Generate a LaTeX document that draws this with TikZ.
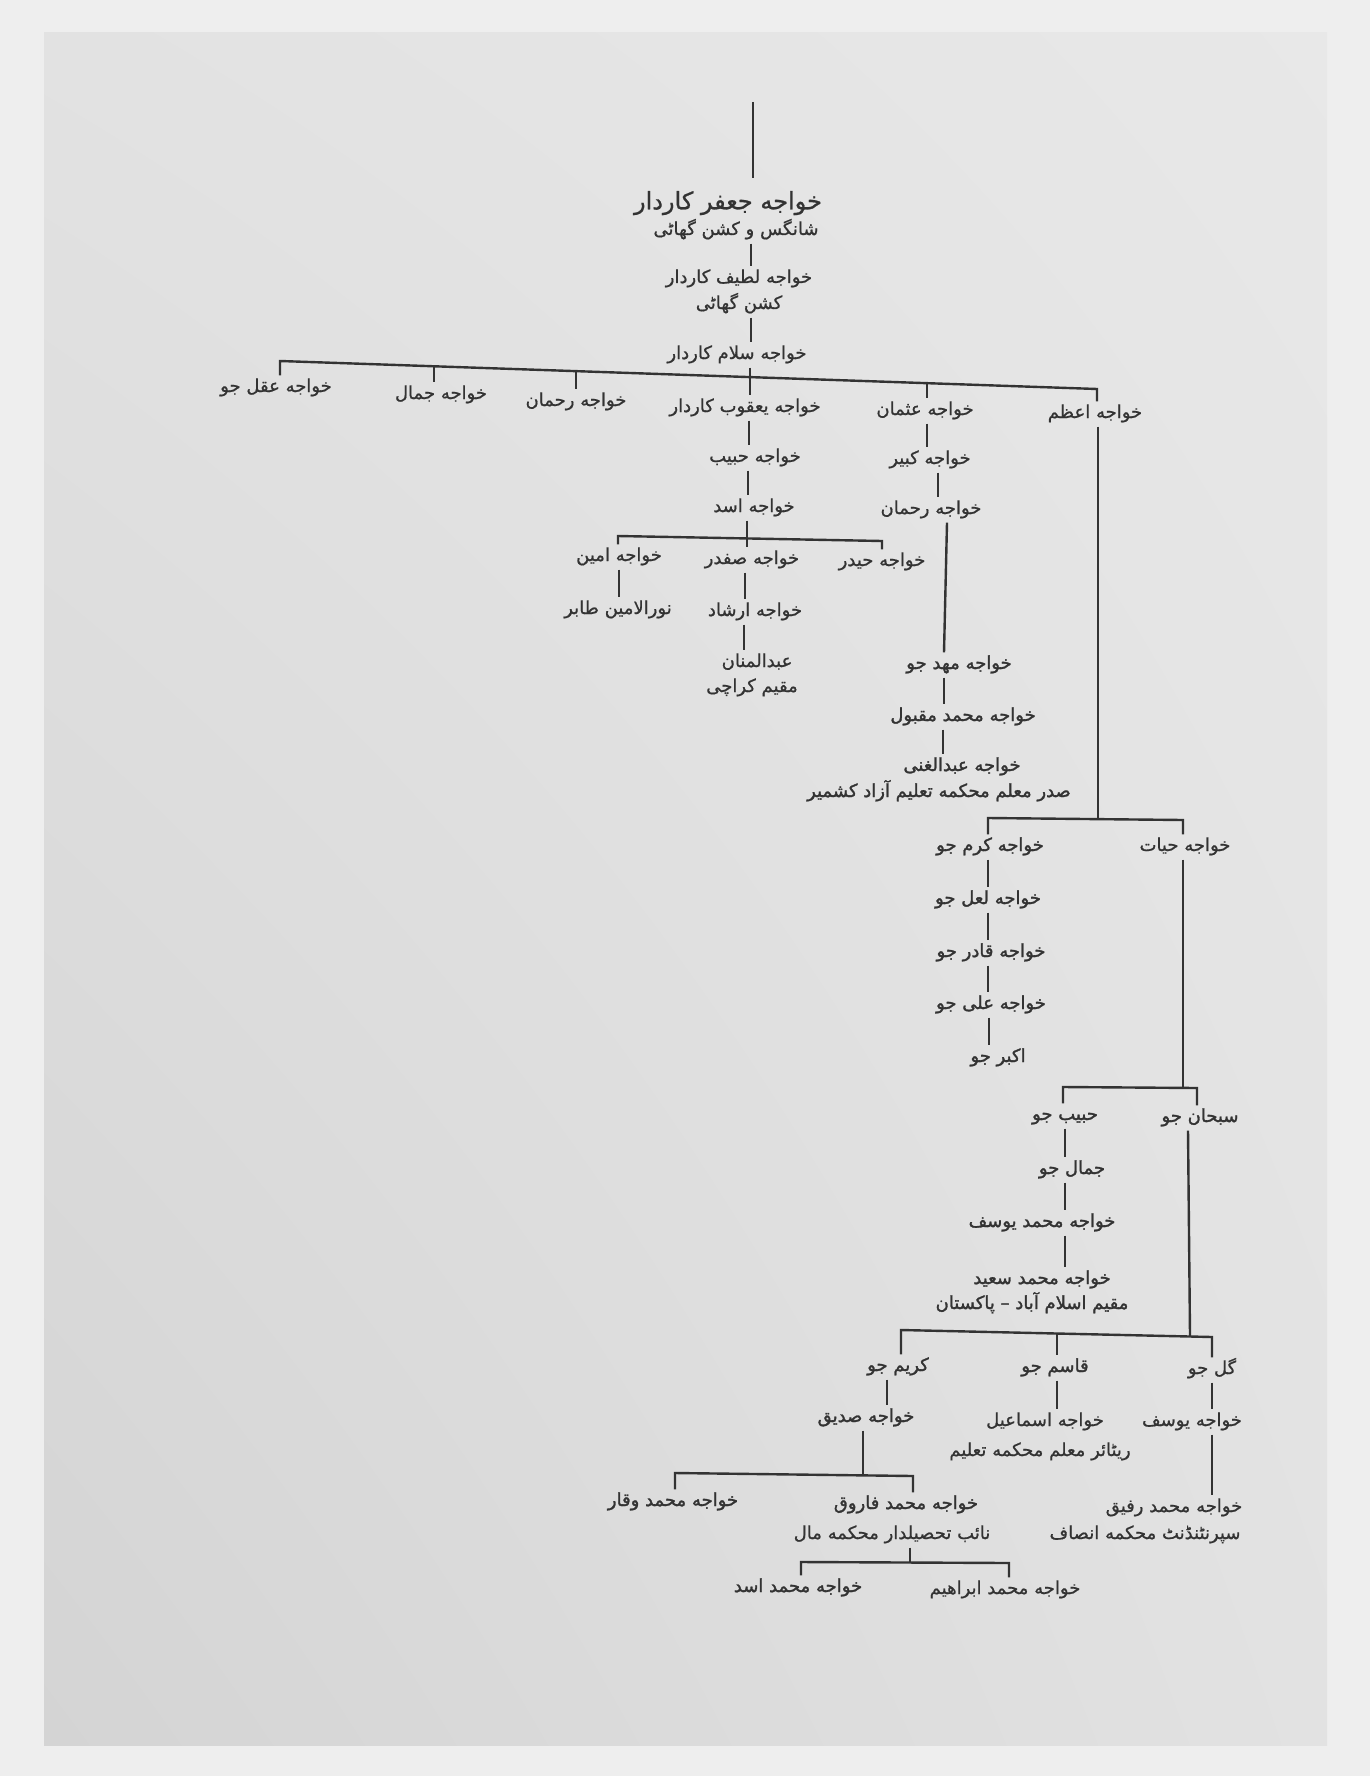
\documentclass[tikz,border=0pt]{standalone}
\usepackage{fontspec}
\usetikzlibrary{shadings}
\newfontfamily\ur[Script=Arabic,FakeBold=0.8]{DejaVu Sans}
\newfontfamily\urb[Script=Arabic,FakeBold=1.6]{DejaVu Sans}
\TeXXeTstate=1
\newcommand{\urt}[1]{\beginR #1\endR}
\definecolor{outerbg}{HTML}{EEEEEE}
\definecolor{pgA}{HTML}{D4D4D4}
\definecolor{pgB}{HTML}{E2E2E2}
\definecolor{ink}{HTML}{333333}
\tikzset{
  nm/.style={font=\ur\fontsize{13.5}{15}\selectfont, text=ink, inner sep=2.2pt, text height=10pt, text depth=4pt},
  nb/.style={nm, font=\urb\fontsize{13.5}{15}\selectfont},
  big/.style={font=\ur\fontsize{18}{20}\selectfont, text=ink, inner sep=2.2pt, text height=13pt, text depth=5pt},
  ln/.style={draw=ink, line width=1.8pt},
}
\begin{document}
\begin{tikzpicture}[x=0.75pt,y=-0.75pt]
\useasboundingbox (0,0) rectangle (1370,1776);
\fill[outerbg] (0,0) rectangle (1370,1776);
\shade[upper left=pgB, upper right=pgB!80!white, lower left=pgA, lower right=pgB] (44,33) rectangle (1327,1745);

% ---- top chain
\node[big] (jafar) at (728,204) {\urt{خواجه جعفر کاردار}};
\node[nm] (jafarS) at (736,231) {\urt{شانگس و کشن گھاٹی}};
\node[nm] (latif) at (739,279) {\urt{خواجه لطیف کاردار}};
\node[nm] (latifS) at (739,305) {\urt{کشن گھاٹی}};
\node[nm] (salam) at (737,355) {\urt{خواجه سلام کاردار}};
\coordinate (top) at (753,102);
\draw[ln, shorten >=8pt] (top) -- (jafar.north -| 753,0);
\draw[ln] (jafarS.south -| 751,0) -- (latif.north -| 751,0);
\draw[ln] (latifS.south -| 751,0) -- (salam.north -| 751,0);

% ---- first generation
\node[nm] (aql) at (276,388) {\urt{خواجه عقل جو}};
\node[nm] (jamal) at (441,395) {\urt{خواجه جمال}};
\node[nm] (rahmanA) at (576,402) {\urt{خواجه رحمان}};
\node[nm] (yaqub) at (745,408) {\urt{خواجه یعقوب کاردار}};
\node[nm] (usman) at (925,411) {\urt{خواجه عثمان}};
\node[nm] (azam) at (1095,414) {\urt{خواجه اعظم}};
\coordinate (b1L) at (280,361);
\coordinate (b1R) at (1097,389);
\coordinate (t1a) at (434,366);
\coordinate (t1b) at (576,371);
\coordinate (t1c) at (927,383);
\draw[ln] (aql.north -| 280,0) -- (b1L) -- (b1R) -- (azam.north -| 1097,0);
\draw[ln] (t1a) -- (jamal.north -| 434,0);
\draw[ln] (t1b) -- (rahmanA.north -| 576,0);
\draw[ln] (t1c) -- (usman.north -| 927,0);
\draw[ln] (salam.south -| 750,0) -- (yaqub.north -| 750,0);

% ---- Yaqub line
\node[nm] (habib) at (755,458) {\urt{خواجه حبیب}};
\node[nm] (asad) at (754,508) {\urt{خواجه اسد}};
\draw[ln] (yaqub.south -| 749,0) -- (habib.north -| 749,0);
\draw[ln] (habib.south -| 748,0) -- (asad.north -| 748,0);
\node[nm] (amin) at (619,557) {\urt{خواجه امین}};
\node[nm] (safdar) at (752,560) {\urt{خواجه صفدر}};
\node[nm] (haidar) at (882,562) {\urt{خواجه حیدر}};
\coordinate (b2L) at (618,536);
\coordinate (b2R) at (882,541);
\draw[ln] (amin.north -| 618,0) -- (b2L) -- (b2R) -- (haidar.north -| 882,0);
\draw[ln] (asad.south -| 747,0) -- (safdar.north -| 747,0);
\node[nm] (noor) at (618,610) {\urt{نورالامین طابر}};
\draw[ln] (amin.south -| 619,0) -- (noor.north -| 619,0);
\node[nm] (irshad) at (755,612) {\urt{خواجه ارشاد}};
\node[nm] (mannan) at (757,663) {\urt{عبدالمنان}};
\node[nm] (mannanS) at (752,688) {\urt{مقیم کراچی}};
\draw[ln] (safdar.south -| 745,0) -- (irshad.north -| 745,0);
\draw[ln] (irshad.south -| 744,0) -- (mannan.north -| 744,0);

% ---- Usman line
\node[nm] (kabir) at (930,460) {\urt{خواجه کبیر}};
\node[nm] (rahmanB) at (931,510) {\urt{خواجه رحمان}};
\draw[ln] (usman.south -| 927,0) -- (kabir.north -| 927,0);
\draw[ln] (kabir.south -| 938,0) -- (rahmanB.north -| 938,0);
\node[nb] (mahad) at (959,665) {\urt{خواجه مهد جو}};
\node[nb] (maqbool) at (963,717) {\urt{خواجه محمد مقبول}};
\node[nb] (ghani) at (962,767) {\urt{خواجه عبدالغنی}};
\node[nb] (ghaniS) at (939,793) {\urt{صدر معلم محکمه تعلیم آزاد کشمیر}};
\draw[ln] (rahmanB.south -| 947,0) -- (mahad.north -| 944,0);
\draw[ln] (mahad.south -| 944,0) -- (maqbool.north -| 944,0);
\draw[ln] (maqbool.south -| 943,0) -- (ghani.north -| 943,0);

% ---- Azam line
\node[nb] (karam) at (990,847) {\urt{خواجه کرم جو}};
\node[nm] (hayat) at (1185,847) {\urt{خواجه حیات}};
\coordinate (b3L) at (988,818);
\coordinate (b3R) at (1183,820);
\coordinate (b3m) at (1098,819);
\draw[ln] (karam.north -| 988,0) -- (b3L) -- (b3R) -- (hayat.north -| 1183,0);
\draw[ln] (azam.south -| 1098,0) -- (b3m);
\node[nb] (lal) at (988,900) {\urt{خواجه لعل جو}};
\node[nb] (qadir) at (991,953) {\urt{خواجه قادر جو}};
\node[nb] (ali) at (991,1005) {\urt{خواجه علی جو}};
\node[nb] (akbar) at (998,1058) {\urt{اکبر جو}};
\draw[ln] (karam.south -| 988,0) -- (lal.north -| 988,0);
\draw[ln] (lal.south -| 988,0) -- (qadir.north -| 988,0);
\draw[ln] (qadir.south -| 988,0) -- (ali.north -| 988,0);
\draw[ln] (ali.south -| 989,0) -- (akbar.north -| 989,0);

% ---- Hayat line
\node[nb] (habibjo) at (1065,1116) {\urt{حبیب جو}};
\node[nb] (subhan) at (1200,1118) {\urt{سبحان جو}};
\coordinate (b4L) at (1063,1087);
\coordinate (b4R) at (1197,1088);
\coordinate (b4m) at (1183,1088);
\draw[ln] (habibjo.north -| 1063,0) -- (b4L) -- (b4R) -- (subhan.north -| 1197,0);
\draw[ln] (hayat.south -| 1183,0) -- (b4m);
\node[nb] (jamaljo) at (1072,1170) {\urt{جمال جو}};
\node[nb] (yusufA) at (1042,1223) {\urt{خواجه محمد یوسف}};
\node[nb] (saeed) at (1042,1280) {\urt{خواجه محمد سعید}};
\node[nb] (saeedS) at (1032,1305) {\urt{مقیم اسلام آباد – پاکستان}};
\draw[ln] (habibjo.south -| 1065,0) -- (jamaljo.north -| 1065,0);
\draw[ln] (jamaljo.south -| 1065,0) -- (yusufA.north -| 1065,0);
\draw[ln] (yusufA.south -| 1065,0) -- (saeed.north -| 1065,0);

% ---- Subhan line
\node[nb] (karim) at (898,1367) {\urt{کریم جو}};
\node[nb] (qasim) at (1055,1368) {\urt{قاسم جو}};
\node[nm] (gul) at (1212,1370) {\urt{گل جو}};
\coordinate (b5L) at (901,1330);
\coordinate (b5R) at (1212,1337);
\coordinate (b5m) at (1190,1336);
\coordinate (t5q) at (1057,1333);
\draw[ln] (karim.north -| 901,0) -- (b5L) -- (b5R) -- (gul.north -| 1212,0);
\draw[ln] (subhan.south -| 1188,0) -- (b5m);
\draw[ln] (t5q) -- (qasim.north -| 1057,0);
\node[nb] (siddiq) at (866,1418) {\urt{خواجه صدیق}};
\node[nm] (ismail) at (1045,1422) {\urt{خواجه اسماعیل}};
\node[nm] (ismailS) at (1040,1452) {\urt{ریٹائر معلم محکمه تعلیم}};
\node[nm] (yusufB) at (1192,1422) {\urt{خواجه یوسف}};
\node[nm] (rafiq) at (1174,1508) {\urt{خواجه محمد رفیق}};
\node[nm] (rafiqS) at (1145,1535) {\urt{سپرنٹنڈنٹ محکمه انصاف}};
\draw[ln] (karim.south -| 887,0) -- (siddiq.north -| 887,0);
\draw[ln] (qasim.south -| 1057,0) -- (ismail.north -| 1057,0);
\draw[ln] (gul.south -| 1212,0) -- (yusufB.north -| 1212,0);
\draw[ln] (yusufB.south -| 1212,0) -- (rafiq.north -| 1212,0);

% ---- Siddiq line
\node[nb] (waqar) at (673,1502) {\urt{خواجه محمد وقار}};
\node[nb] (farooq) at (906,1505) {\urt{خواجه محمد فاروق}};
\node[nm] (farooqS) at (892,1535) {\urt{نائب تحصیلدار محکمه مال}};
\coordinate (b6L) at (675,1473);
\coordinate (b6R) at (913,1476);
\coordinate (b6m) at (863,1475);
\draw[ln] (waqar.north -| 675,0) -- (b6L) -- (b6R) -- (farooq.north -| 913,0);
\draw[ln] (siddiq.south -| 863,0) -- (b6m);
\node[nb] (asadB) at (798,1588) {\urt{خواجه محمد اسد}};
\node[nm] (ibrahim) at (1005,1590) {\urt{خواجه محمد ابراهیم}};
\coordinate (b7L) at (801,1562);
\coordinate (b7R) at (1009,1563);
\coordinate (b7m) at (910,1562);
\draw[ln] (asadB.north -| 801,0) -- (b7L) -- (b7R) -- (ibrahim.north -| 1009,0);
\draw[ln] (farooqS.south -| 910,0) -- (b7m);
\end{tikzpicture}
\end{document}
